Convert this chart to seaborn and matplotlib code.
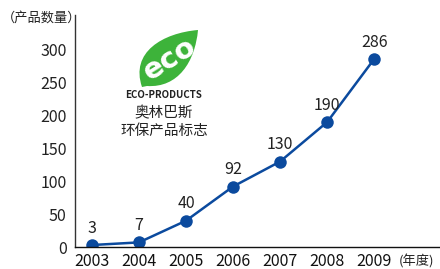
import pandas as pd
import matplotlib.pyplot as plt
import seaborn as sns
from matplotlib.path import Path
from matplotlib.patches import PathPatch

# 数据
years = [2003, 2004, 2005, 2006, 2007, 2008, 2009]
counts = [3, 7, 40, 92, 130, 190, 286]
y_ticks = [0, 50, 100, 150, 200, 250, 300]

data = pd.DataFrame({"year": years, "count": counts})

sns.set_style("white")
plt.rcParams["font.family"] = ["Noto Sans CJK SC", "DejaVu Sans"]

W, H = 440, 269
fig = plt.figure(figsize=(W / 100, H / 100), dpi=100)
ax = fig.add_axes([75 / W, 22 / H, 365 / W, 232 / H])

line_color = "#0b4a9e"
sns.lineplot(x="year", y="count", data=data, ax=ax, color=line_color,
             linewidth=1.8, marker="o", markersize=9, markeredgewidth=0)

for x, y in zip(years, counts):
    ax.annotate(str(y), (x, y), xytext=(0, 6), textcoords="offset points",
                ha="center", va="bottom", fontsize=11.5, color="#222222")

ax.set_xlim(2002.64, 2010.4)
ax.set_ylim(0, 353)
ax.set_xticks(years)
ax.set_xticklabels([str(y) for y in years], fontsize=11.5, color="#111111")
ax.set_yticks(y_ticks)
ax.set_yticklabels([str(v) for v in y_ticks], fontsize=11.5, color="#222222")
ax.tick_params(axis="both", length=0)
ax.tick_params(axis="y", pad=6)
ax.tick_params(axis="x", pad=4)
ax.set_xlabel("")
ax.set_ylabel("")
for s in ["top", "right"]:
    ax.spines[s].set_visible(False)
ax.spines["left"].set_color("#333333")
ax.spines["bottom"].set_color("#111111")
ax.spines["left"].set_linewidth(1)
ax.spines["bottom"].set_linewidth(1)

# 单位
fig.text(42 / W, 1 - 18 / H, "（产品数量）", fontsize=9.5, ha="center", va="center", color="#222222")
fig.text(399 / W, 1 - 262 / H, "(年度)", fontsize=9.5, ha="left", va="center", color="#222222")


# 标志（叶子）
def px(x, y):
    return (x / W, 1 - y / H)


leaf_pts = [px(142, 87), px(130, 52), px(163, 33), px(198, 30),
            px(195, 62), px(178, 88), px(147, 86), px(142, 87)]
codes = [Path.MOVETO, Path.CURVE4, Path.CURVE4, Path.CURVE4,
         Path.CURVE4, Path.CURVE4, Path.CURVE4, Path.CLOSEPOLY]
fig.patches.append(PathPatch(Path(leaf_pts, codes), transform=fig.transFigure,
                             facecolor="#3db33a", edgecolor="none"))
fig.text(170 / W, 1 - 59 / H, "eco", fontsize=21, fontweight="bold", color="white",
         rotation=32, ha="center", va="center", family="DejaVu Sans")
fig.text(164 / W, 1 - 95 / H, "ECO-PRODUCTS", fontsize=7, fontweight="bold",
         ha="center", va="center", color="#222222")
fig.text(164 / W, 1 - 113 / H, "奥林巴斯", fontsize=10.5, ha="center", va="center", color="#222222")
fig.text(164 / W, 1 - 131 / H, "环保产品标志", fontsize=10.5, ha="center", va="center", color="#222222")

plt.savefig("out.png", dpi=100)
plt.close()
